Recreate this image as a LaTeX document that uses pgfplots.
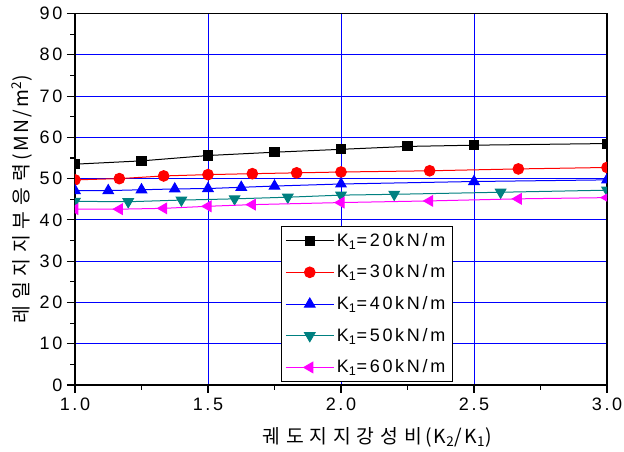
\documentclass[border=0pt]{standalone}
\usepackage{pgfplots}
\pgfplotsset{compat=1.18}
\usepackage{fontspec}
\setmainfont{Liberation Sans}[LetterSpace=15]
\newfontfamily\kr{Noto Sans CJK KR}[LetterSpace=30]
\newfontfamily\krl{Noto Sans CJK KR}[LetterSpace=12]
\definecolor{tealc}{RGB}{0,128,128}
\definecolor{magc}{RGB}{255,0,255}
\begin{document}
\begin{tikzpicture}
\begin{axis}[
  scale only axis, width=399pt, height=278.6pt,
  at={(0pt,0pt)}, anchor=south west,
  xmin=1, xmax=3, ymin=0, ymax=90,
  xtick={1,1.5,2,2.5,3}, ytick={0,10,...,90},
  minor x tick num=1, minor y tick num=1,
  xtick pos=left, ytick pos=left,
  tick align=outside,
  major tick length=6pt, minor tick length=3.5pt,
  tick style={black, line width=0.8pt},
  axis line style={line width=0.9pt},
  grid=major, major grid style={blue, line width=0.6pt},
  clip marker paths=true,
  /pgf/number format/assume math mode=true,
  xticklabel style={/pgf/number format/.cd, fixed, fixed zerofill, precision=1, assume math mode=true},
  yticklabel style={/pgf/number format/assume math mode=true},
  ticklabel style={font=\fontsize{13.5}{15}\selectfont},
  xlabel={{\kr 궤도지지강성비}\,{\krl(K\textsubscript{2}/K\textsubscript{1})}},
  ylabel={{\kr 레일지지부응력}\,{\krl(MN/m\textsuperscript{2})}},
  xlabel style={font=\fontsize{14.5}{16}\selectfont, at={(axis description cs:0.568,-0.14)}, anchor=center},
  ylabel style={font=\fontsize{14.5}{16}\selectfont, at={(axis description cs:-0.1,0.5)}, anchor=center},
  legend cell align=left,
  legend style={at={(axis description cs:0.387,0.008)}, anchor=south west,
    draw=black, line width=0.6pt, font=\fontsize{13.5}{16}\selectfont,
    row sep=8.5pt, inner sep=3pt},
  legend image code/.code={\draw[mark repeat=2,mark phase=2] plot coordinates {(0pt,0pt)(18pt,0pt)(36pt,0pt)};},
  every axis plot/.append style={line width=0.75pt},
]
\addplot[black, mark=square*, mark size=3.4pt, mark options={solid}] coordinates {
(1.0,53.5)(1.25,54.3)(1.5,55.6)(1.75,56.4)(2.0,57.1)(2.25,57.8)(2.5,58.1)(3.0,58.5)};
\addlegendentry{K\textsubscript{1}=20kN/m}
\addplot[red, mark=*, mark size=4pt] coordinates {
(1.0,49.7)(1.1667,50.0)(1.3333,50.65)(1.5,50.97)(1.6667,51.2)(1.8333,51.4)(2.0,51.6)(2.3333,51.9)(2.6667,52.35)(3.0,52.7)};
\addlegendentry{K\textsubscript{1}=30kN/m}
\addplot[blue, mark=triangle*, mark size=4.5pt] coordinates {
(1.0,47.1)(1.125,47.1)(1.25,47.3)(1.375,47.5)(1.5,47.6)(1.625,47.9)(1.75,48.2)(2.0,48.7)(2.5,49.3)(3.0,49.7)};
\addlegendentry{K\textsubscript{1}=40kN/m}
\addplot[tealc, mark=triangle*, mark size=4.5pt, mark options={rotate=180}] coordinates {
(1.0,44.5)(1.2,44.4)(1.4,44.8)(1.6,45.1)(1.8,45.5)(2.0,46.0)(2.2,46.2)(2.6,46.7)(3.0,47.2)};
\addlegendentry{K\textsubscript{1}=50kN/m}
\addplot[magc, mark=triangle*, mark size=4.5pt, mark options={rotate=90}] coordinates {
(1.0,42.6)(1.1667,42.6)(1.3333,42.8)(1.5,43.3)(1.6667,43.7)(2.0,44.2)(2.3333,44.6)(2.6667,45.1)(3.0,45.4)};
\addlegendentry{K\textsubscript{1}=60kN/m}
\end{axis}
\pgfresetboundingbox
\path[use as bounding box] (-56.25pt,-50.25pt) rectangle (411.75pt,288.75pt);
\end{tikzpicture}
\end{document}
